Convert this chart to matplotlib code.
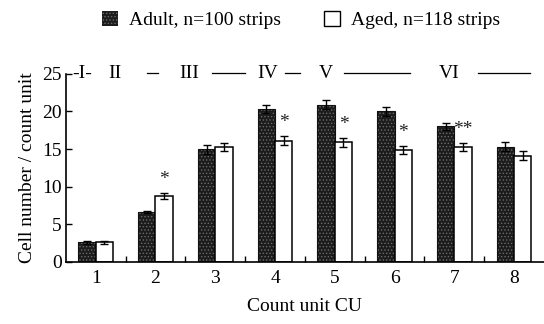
import numpy as np
import matplotlib
matplotlib.use("Agg")
import matplotlib.pyplot as plt

plt.rcParams['font.family'] = ['Liberation Serif', 'DejaVu Serif']
plt.rcParams['hatch.linewidth'] = 0.6

# data
units = [1, 2, 3, 4, 5, 6, 7, 8]
adult = [2.6, 6.6, 15.0, 20.3, 20.9, 20.0, 18.0, 15.3]
adult_err = [0.2, 0.1, 0.6, 0.5, 0.6, 0.6, 0.5, 0.6]
aged = [2.6, 8.7, 15.3, 16.1, 15.9, 14.9, 15.3, 14.1]
aged_err = [0.2, 0.4, 0.5, 0.6, 0.6, 0.5, 0.5, 0.6]
stars = ["", "*", "", "*", "*", "*", "**", ""]

# layer labels along the top of the plot
layers = ["-I-", "II", "III", "IV", "V", "VI"]
layer_x = [0.77, 1.32, 2.57, 3.88, 4.85, 6.92]
dashes = [(1.85, 2.05), (2.94, 3.49), (4.16, 4.41), (5.16, 6.25), (7.39, 8.26)]

fig = plt.figure(figsize=(5.44, 3.24), dpi=100)
ax = fig.add_axes([0.121, 0.192, 0.879, 0.58])

x = np.array(units)
w = 0.29
ax.bar(x - w / 2, adult, w, color='#1c1c1c', edgecolor='#6a6a6a',
       hatch='.....', linewidth=0)
ax.bar(x - w / 2, adult, w, color='none', edgecolor='#111', linewidth=0.8)
ax.bar(x + w / 2, aged, w, color='white', edgecolor='black', linewidth=1.1)
ax.errorbar(x - w / 2, adult, yerr=adult_err, fmt='none', ecolor='black',
            elinewidth=1, capsize=3, capthick=1)
ax.errorbar(x + w / 2, aged, yerr=aged_err, fmt='none', ecolor='black',
            elinewidth=1, capsize=3, capthick=1)

for xi, v, e, s in zip(x, aged, aged_err, stars):
    if s:
        ax.text(xi + w / 2, v + e + 0.7, s, ha='center', va='bottom',
                fontsize=14, color='#222')

for lx, lab in zip(layer_x, layers):
    ax.text(lx, 25, lab, ha='center', va='center', fontsize=14, clip_on=False)
for a, b in dashes:
    ax.plot([a, b], [25.1, 25.1], color='black', lw=0.9, clip_on=False)

ax.set_xlim(0.5, 8.5)
ax.set_ylim(0, 25)
ax.set_yticks([0, 5, 10, 15, 20, 25])
ax.set_xticks(units)
ax.set_xticks(np.arange(1.5, 8, 1), minor=True)
ax.tick_params(axis='x', which='major', length=0, labelsize=14, pad=6)
ax.tick_params(axis='x', which='minor', direction='in', length=4, width=1)
ax.tick_params(axis='y', direction='in', length=4, width=1, labelsize=14, pad=3)
for side in ['top', 'right']:
    ax.spines[side].set_visible(False)
for side in ['left', 'bottom']:
    ax.spines[side].set_linewidth(1.2)

ax.set_xlabel("Count unit CU", fontsize=14, labelpad=8)
ax.set_ylabel("Cell number / count unit", fontsize=14, labelpad=4)

# legend drawn as in the original, centred above the axes
h1 = ax.bar([0], [0], color='#1c1c1c', edgecolor='#6a6a6a', hatch='.....', linewidth=0)
h2 = ax.bar([0], [0], color='white', edgecolor='black', linewidth=1)
fig.legend([h1, h2], ["Adult, n=100 strips", "Aged, n=118 strips"],
           loc='upper center', bbox_to_anchor=(0.554, 1.02), ncol=2, frameon=False,
           fontsize=14, handlelength=0.8, handleheight=0.8, handletextpad=0.6,
           columnspacing=2.2)

fig.savefig("out.png", dpi=100)
